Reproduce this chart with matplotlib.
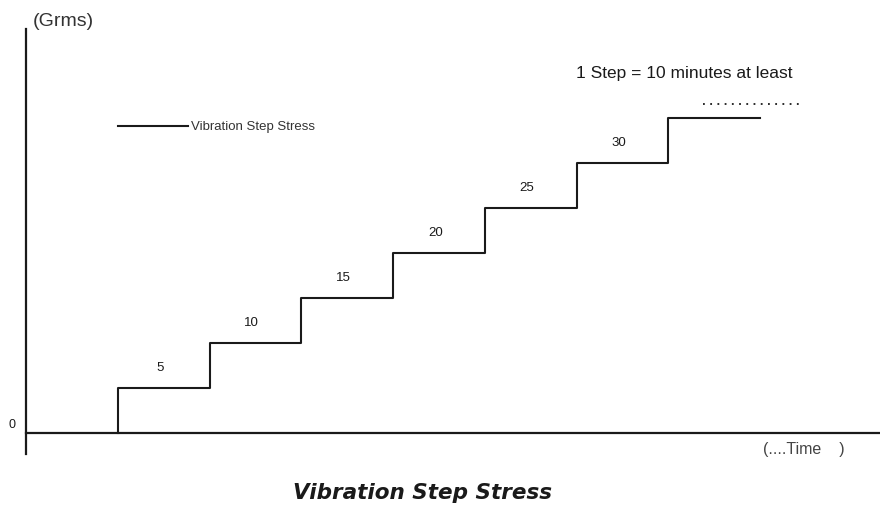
import numpy as np
import matplotlib.pyplot as plt

# step function: time in steps, vibration level in Grms
step_times = [0, 0, 1, 2, 3, 4, 5, 6, 7]
step_levels = [0, 5, 10, 15, 20, 25, 30, 35, 35]
label_levels = [5, 10, 15, 20, 25, 30]
label_steps = [0, 1, 2, 3, 4, 5]

fig = plt.figure(figsize=(8.8, 5.06), dpi=100)
ax = fig.add_axes([0, 0, 1, 1])
ax.set_xlim(-118 / 91.7, (880 - 118) / 91.7)
ax.set_ylim(-72 / 9, 434 / 9)
ax.axis("off")

ink = "#1a1a1a"
font = "Liberation Sans"

# axes drawn by hand, like the sketch
ax.plot([-1.0, -1.0], [-2.3, 44.9], color=ink, lw=1.6)
ax.plot([-1.0, 8.4], [0, 0], color=ink, lw=1.6)

ax.step(step_times, step_levels, where="post", color=ink, lw=1.5)

for s, lv in zip(label_steps, label_levels):
    ax.text(s + 0.46, lv + 2.3, str(lv), ha="center", va="center",
            fontsize=9.5, family=font, color=ink)

# legend sample
ax.plot([0, 0.76], [34.1, 34.1], color=ink, lw=1.5)
ax.text(0.8, 34.1, "Vibration Step Stress", ha="left", va="center",
        fontsize=9.5, family=font, color="#333333")

ax.plot([6.38, 7.47], [36.6, 36.6], color=ink, lw=1.3, linestyle=(0, (1, 3)))
ax.text(4.99, 40.1, "1 Step = 10 minutes at least", ha="left", va="center",
        fontsize=12.5, family=font, color=ink)

ax.text(-0.93, 45.8, "(Grms)", ha="left", va="center",
        fontsize=14, family=font, color="#333333")
ax.text(-1.12, 1.0, "0", ha="right", va="center",
        fontsize=9, family=font, color=ink)
ax.text(7.03, -1.7, "(....Time    )", ha="left", va="center",
        fontsize=11.5, family=font, color="#444444")

ax.text(3.32, -6.6, "Vibration Step Stress", ha="center", va="center",
        fontsize=15.5, family="DejaVu Sans", fontweight="bold",
        fontstyle="italic", color=ink)

fig.savefig("out.png", dpi=100)
